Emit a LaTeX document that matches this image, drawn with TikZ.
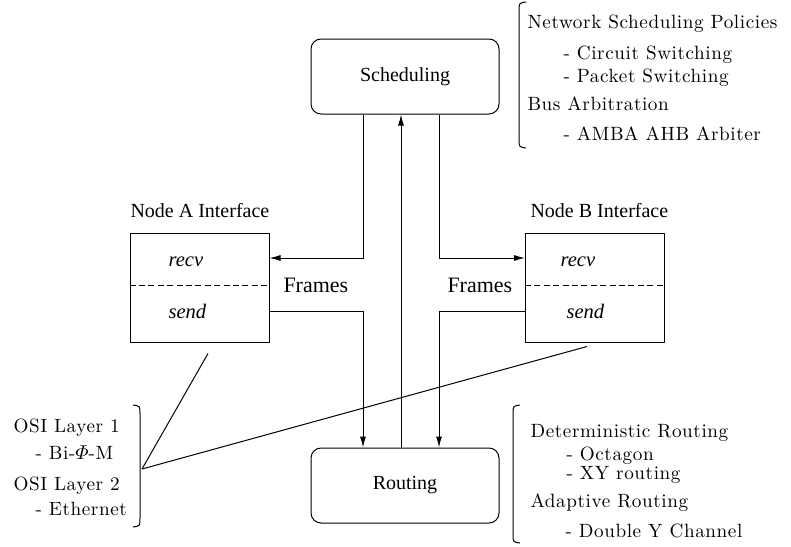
\documentclass[tikz,border=0pt]{standalone}
\usepackage{amsmath}
\usepackage{fontspec}
\usetikzlibrary{arrows.meta}
\newfontfamily\tmsfont{Liberation Serif}
\newfontfamily\sidefont[LetterSpace=3]{Latin Modern Roman}
\tikzset{
	blk/.style={draw, rounded corners=5pt, minimum width=94pt, minimum height=37.5pt, font=\tmsfont\fontsize{10}{12}\selectfont},
	iface/.style={draw, minimum width=69.5pt, minimum height=54.5pt},
	lbl/.style={inner sep=0pt, anchor=base west, font=\tmsfont\fontsize{10}{12}\selectfont},
	op/.style={lbl, font=\tmsfont\itshape\fontsize{10.3}{12}\selectfont},
	frm/.style={lbl, font=\tmsfont\fontsize{11}{13}\selectfont},
	side/.style={inner sep=0pt, anchor=base west, font=\sidefont\fontsize{9.6}{11}\selectfont}
}
\begin{document}
\begin{tikzpicture}[x=0.5pt, y=-0.5pt, line width=0.5pt, line join=round, >={Latex[length=5.5pt,width=3pt]}]
			\useasboundingbox (0,0) rectangle (791,546);
			\coordinate (colL) at (363,0);
			\coordinate (colM) at (401,0);
			\coordinate (colR) at (439,0);
			\coordinate (rowR) at (0,258);
			\coordinate (rowD) at (0,285);
			\coordinate (rowS) at (0,311);
			\coordinate (osi) at (142,469);
			\node[blk] (sched) at (405,76.5) {Scheduling};
			\node[blk] (rout) at (405,485.5) {Routing};
			\node[iface] (nodeA) at (199.5,287.5) {};
			\node[iface] (nodeB) at (595,287.5) {};
			\node[lbl] (labA) at (130,217) {Node A Interface};
			\node[lbl] (labB) at (530,217) {Node B Interface};
			\node[op] (recvA) at (168,266) {recv};
			\node[op] (sendA) at (168,318) {send};
			\node[op] (recvB) at (560,266) {recv};
			\node[op] (sendB) at (566,318) {send};
			\node[frm] (frmA) at (283,292) {Frames};
			\node[frm] (frmB) at (447,292) {Frames};
			\draw[dash pattern=on 3pt off 1.7pt] (nodeA.west |- rowD) -- (nodeA.east |- rowD);
			\draw[dash pattern=on 3pt off 1.7pt] (nodeB.west |- rowD) -- (nodeB.east |- rowD);
			\draw[->] (sched.south -| colL) |- (nodeA.east |- rowR);
			\draw[->] (sched.south -| colR) |- (nodeB.west |- rowR);
			\draw[->] (rout.north -| colM) -- (sched.south -| colM);
			\draw[->] (nodeA.east |- rowS) -| (rout.north -| colL);
			\draw[->] (nodeB.west |- rowS) -| (rout.north -| colR);
			\draw (osi) -- ([xshift=4.25pt,yshift=-5.5pt]nodeA.south);
			\draw (osi) -- ([xshift=-4pt,yshift=-2pt]nodeB.south);
			\draw (133,405) .. controls (140,406) .. (140,414) -- (140,518) .. controls (140,526) .. (133,527);
			\draw (526,2) .. controls (519,3) .. (519,11) -- (519,139) .. controls (519,147) .. (526,148);
			\draw (520,405) .. controls (513,406) .. (513,414) -- (513,534) .. controls (513,542) .. (520,543);
			\node[side] (nsp) at (527,28) {Network Scheduling Policies};
			\node[side] (cs) at (563,59) {- Circuit Switching};
			\node[side] (ps) at (563,82) {- Packet Switching};
			\node[side] (ba) at (527,110) {Bus Arbitration};
			\node[side] (amba) at (563,140) {- AMBA AHB Arbiter};
			\node[side] (dr) at (530,437) {Deterministic Routing};
			\node[side] (oct) at (566,460) {- Octagon};
			\node[side] (xy) at (566,479) {- XY routing};
			\node[side] (ar) at (530,507) {Adaptive Routing};
			\node[side] (dyc) at (565,537) {- Double Y Channel};
			\node[side] (osi1) at (13,432) {OSI Layer 1};
			\node[side] (bpm) at (35,459) {- Bi-$\varPhi$-M};
			\node[side] (osi2) at (13,490) {OSI Layer 2};
			\node[side] (eth) at (35,515) {- Ethernet};
		\end{tikzpicture}
\end{document}
